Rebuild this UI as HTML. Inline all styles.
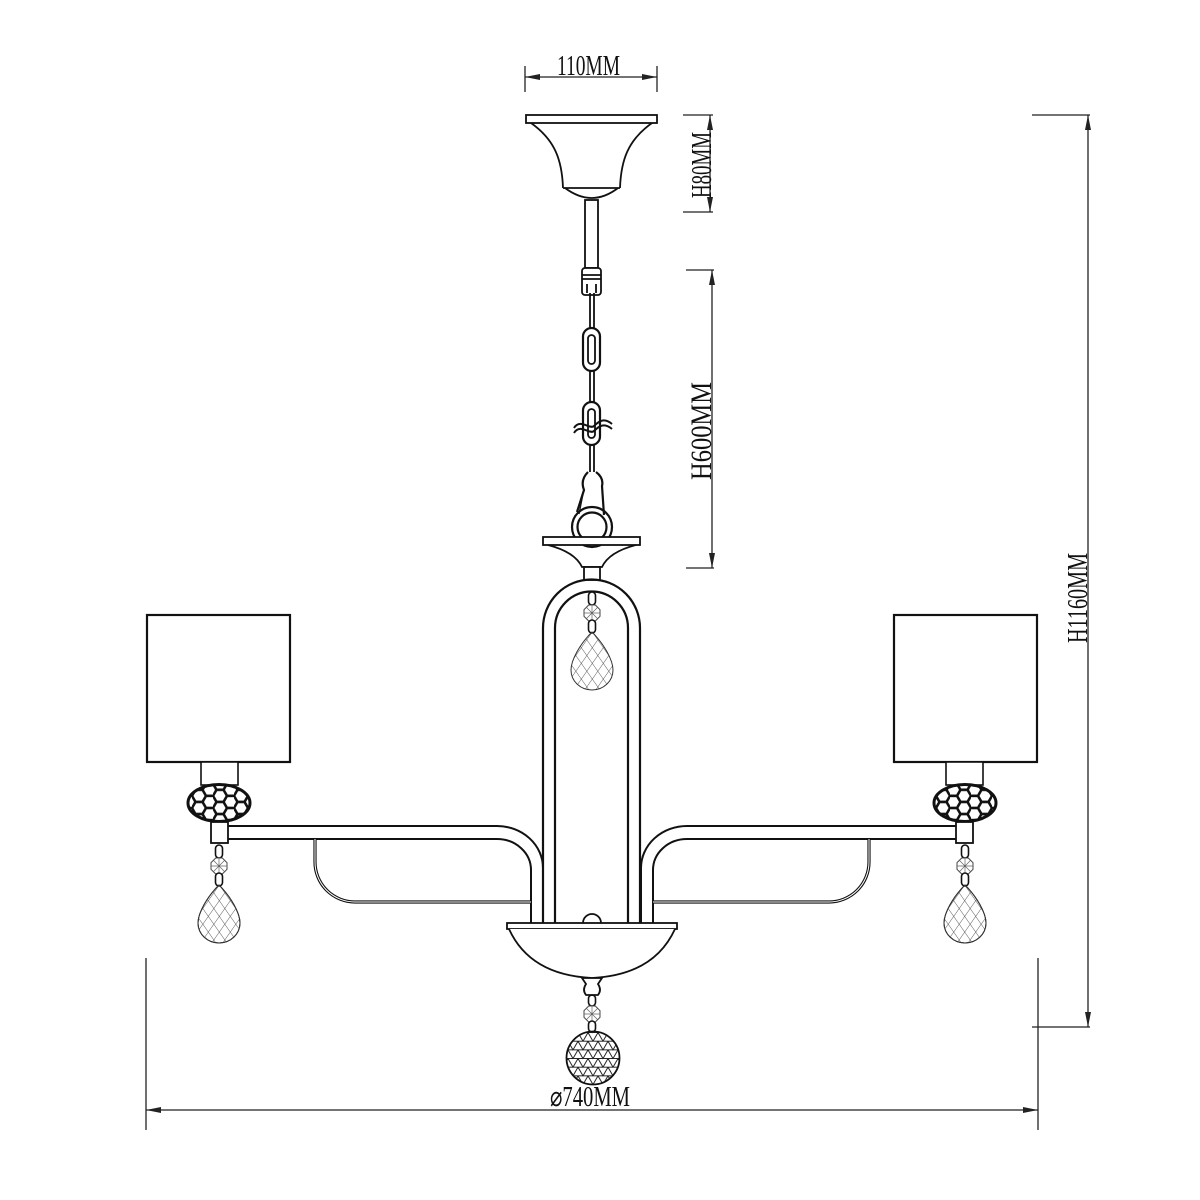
<!DOCTYPE html>
<html><head><meta charset="utf-8"><style>
html,body{margin:0;padding:0;background:#fff;}
svg{display:block;}
text{font-family:"Liberation Serif",serif;fill:#111;}
</style></head><body>
<svg width="1200" height="1200" viewBox="0 0 1200 1200" xmlns="http://www.w3.org/2000/svg">
<defs>
  <pattern id="hatch" width="9" height="9" patternUnits="userSpaceOnUse" patternTransform="rotate(35)">
    <line x1="0" y1="0" x2="0" y2="9" stroke="#333" stroke-width="0.8"/>
  </pattern>
  <pattern id="hatch2" width="9" height="9" patternUnits="userSpaceOnUse" patternTransform="rotate(-35)">
    <line x1="0" y1="0" x2="0" y2="9" stroke="#333" stroke-width="0.8"/>
  </pattern>
  <pattern id="hex" width="21" height="12.12" patternUnits="userSpaceOnUse" x="3" y="2">
    <path d="M0,6.06 L3.5,0 L10.5,0 L14,6.06 L10.5,12.12 L3.5,12.12 Z M14,6.06 L21,6.06" fill="none" stroke="#111" stroke-width="2.6"/>
  </pattern>
  <pattern id="tri" width="10" height="8.66" patternUnits="userSpaceOnUse" x="3" y="2">
    <path d="M0,0 H10 M0,8.66 H10 M0,8.66 L5,0 L10,8.66 M-5,0 L0,8.66 M10,0 L15,8.66 M5,0 L0,-8.66 M5,0 L10,-8.66" fill="none" stroke="#222" stroke-width="1"/>
  </pattern>
  <g id="drop">
    <path d="M0,0 C12,12 21,28 21,38 A21 20 0 0 1 -21 38 C-21,28 -12,12 0,0 Z" fill="url(#hatch)" />
    <path d="M0,0 C12,12 21,28 21,38 A21 20 0 0 1 -21 38 C-21,28 -12,12 0,0 Z" fill="url(#hatch2)" stroke="#333" stroke-width="1"/>
  </g>
  <g id="oct">
    <polygon points="-3.3,-8 3.3,-8 8,-3.3 8,3.3 3.3,8 -3.3,8 -8,3.3 -8,-3.3" fill="#fff" stroke="#444" stroke-width="1"/>
    <path d="M-8,0 H8 M0,-8 V8 M-5.7,-5.7 L5.7,5.7 M5.7,-5.7 L-5.7,5.7" stroke="#666" stroke-width="0.7"/>
  </g>
  <g id="pend">
    <rect x="-3.5" y="0" width="7" height="13" rx="3.5" fill="#fff" stroke="#111" stroke-width="1.6"/>
    <use href="#oct" x="0" y="21"/>
    <rect x="-3.5" y="28" width="7" height="13" rx="3.5" fill="#fff" stroke="#111" stroke-width="1.6"/>
    <use href="#drop" x="0" y="40"/>
  </g>
  <g id="side" fill="none" stroke="#111">
    <rect x="147" y="615" width="143" height="147" stroke-width="2.2" fill="#fff"/>
    <rect x="201" y="762" width="37" height="23" stroke-width="1.6" fill="#fff"/>
    <ellipse cx="219" cy="803" rx="31" ry="18.5" fill="url(#hex)" stroke-width="3"/>
    <rect x="211" y="822" width="17" height="21" stroke-width="1.8" fill="#fff"/>
    <path d="M228,826 H497 A46 42 0 0 1 543 868 V925" stroke-width="2"/>
    <path d="M228,839 H497 A34 31 0 0 1 531 870 V925" stroke-width="2"/>
    <path d="M315,839 V862 A40 40 0 0 0 355 902 H531" stroke-width="3.2"/>
    <path d="M315,839 V862 A40 40 0 0 0 355 902 H531" stroke="#fff" stroke-width="1"/>
    <use href="#pend" x="219" y="845"/>
  </g>
</defs>

<g stroke="#222" stroke-width="1.3" fill="none">
  <line x1="525" y1="66" x2="525" y2="92"/>
  <line x1="657" y1="66" x2="657" y2="92"/>
  <line x1="525" y1="77" x2="657" y2="77"/>
  <line x1="683" y1="115" x2="713" y2="115"/>
  <line x1="683" y1="212" x2="713" y2="212"/>
  <line x1="710" y1="115" x2="710" y2="212"/>
  <line x1="686" y1="270" x2="714" y2="270"/>
  <line x1="686" y1="568" x2="714" y2="568"/>
  <line x1="712" y1="270" x2="712" y2="568"/>
  <line x1="1032" y1="115" x2="1090" y2="115"/>
  <line x1="1032" y1="1027" x2="1090" y2="1027"/>
  <line x1="1088" y1="115" x2="1088" y2="1027"/>
  <line x1="146" y1="958" x2="146" y2="1130"/>
  <line x1="1038" y1="958" x2="1038" y2="1130"/>
  <line x1="146" y1="1110" x2="1038" y2="1110"/>
</g>
<g fill="#222">
  <polygon points="525,77 540,74 540,80"/><polygon points="657,77 642,74 642,80"/>
  <polygon points="710,115 707,130 713,130"/><polygon points="710,212 707,197 713,197"/>
  <polygon points="712,270 709,285 715,285"/><polygon points="712,568 709,553 715,553"/>
  <polygon points="1088,115 1085,130 1091,130"/><polygon points="1088,1027 1085,1012 1091,1012"/>
  <polygon points="146,1110 161,1107 161,1113"/><polygon points="1038,1110 1023,1107 1023,1113"/>
</g>
<text x="557" y="75" font-size="28" textLength="63" lengthAdjust="spacingAndGlyphs">110MM</text>
<text transform="translate(711,198) rotate(-90)" font-size="28" textLength="66" lengthAdjust="spacingAndGlyphs">H80MM</text>
<text transform="translate(711,480) rotate(-90)" font-size="30" textLength="98" lengthAdjust="spacingAndGlyphs">H600MM</text>
<text transform="translate(1087,643) rotate(-90)" font-size="28" textLength="90" lengthAdjust="spacingAndGlyphs">H1160MM</text>
<text x="550" y="1106" font-size="28" textLength="80" lengthAdjust="spacingAndGlyphs">⌀740MM</text>

<g fill="none" stroke="#111" stroke-width="1.8">
  <rect x="526" y="115" width="131" height="8" fill="#fff"/>
  <path d="M531,123 C555,140 562,160 563,188 M652,123 C628,140 621,160 620,188"/>
  <line x1="563" y1="188" x2="620" y2="188"/>
  <path d="M565,188 Q592,208 618,188"/>
  <rect x="585" y="200" width="13" height="68" fill="#fff"/>
  <rect x="582" y="268" width="19" height="27" rx="3" fill="#fff"/>
  <line x1="582" y1="275" x2="601" y2="275"/><line x1="582" y1="279" x2="601" y2="279"/>
  <path d="M587,284 V293 M596,284 V293"/>
  <line x1="590" y1="293" x2="590" y2="330"/><line x1="594" y1="293" x2="594" y2="330"/>
  <rect x="583" y="328" width="17" height="43" rx="8.5" stroke-width="2.2" fill="#fff"/>
  <rect x="588" y="335" width="7" height="29" rx="3.5"/>
  <line x1="590" y1="370" x2="590" y2="403"/><line x1="594" y1="370" x2="594" y2="403"/>
  <rect x="583" y="402" width="17" height="43" rx="8.5" stroke-width="2.2" fill="#fff"/>
  <rect x="588" y="409" width="7" height="29" rx="3.5"/>
  <path d="M574,428 C580,418 590,430 594,426 C600,420 605,418 612,424" stroke-width="2"/>
  <path d="M574,433 C580,423 590,435 594,431 C600,425 605,423 612,429" stroke-width="2"/>
  <line x1="590" y1="445" x2="590" y2="472"/><line x1="594" y1="445" x2="594" y2="472"/>
  <path d="M588,472 Q580,480 584,490 L577,512 M596,472 Q604,478 602,486 L604,515" stroke-width="2.2"/>
  <path d="M583,494 L579,514" stroke-width="1.3"/>
  <circle cx="592" cy="527" r="20" stroke-width="2.2" fill="none"/>
  <circle cx="592" cy="527" r="14.5" stroke-width="2.2" fill="none"/>
  <rect x="543" y="537" width="97" height="8" fill="#fff"/>
  <path d="M548,545 Q575,552 582,567 H602 Q609,552 636,545"/>
  <rect x="584" y="567" width="16" height="13" fill="#fff"/>
  <path d="M543,925 V628 A48.5 48.5 0 0 1 640 628 V925" stroke-width="2.2"/>
  <path d="M555,925 V628 A36.5 36.5 0 0 1 628 628 V925" stroke-width="2.2"/>
</g>
<use href="#pend" x="592" y="592"/>

<use href="#side"/>
<use href="#side" transform="matrix(-1 0 0 1 1184 0)"/>

<g fill="none" stroke="#111" stroke-width="1.8">
  <path d="M583,923 A9 9 0 0 1 601 923" fill="#fff"/>
  <rect x="507" y="923" width="170" height="6" fill="#fff"/>
  <path d="M509,929 Q530,975 592,978 Q654,975 675,929" fill="#fff"/>
  <path d="M582,978 H602 L598,984 Q602,990 598,995 H586 Q582,990 586,984 Z" fill="#fff"/>
  <rect x="588.5" y="995" width="7" height="11" rx="3.5" stroke-width="1.6"/>
</g>
<use href="#oct" x="592" y="1014"/>
<rect x="588.5" y="1021" width="7" height="11" rx="3.5" fill="#fff" stroke="#111" stroke-width="1.6"/>
<circle cx="593" cy="1058" r="26.5" fill="url(#tri)" stroke="#111" stroke-width="1.8"/>
</svg>
</body></html>
